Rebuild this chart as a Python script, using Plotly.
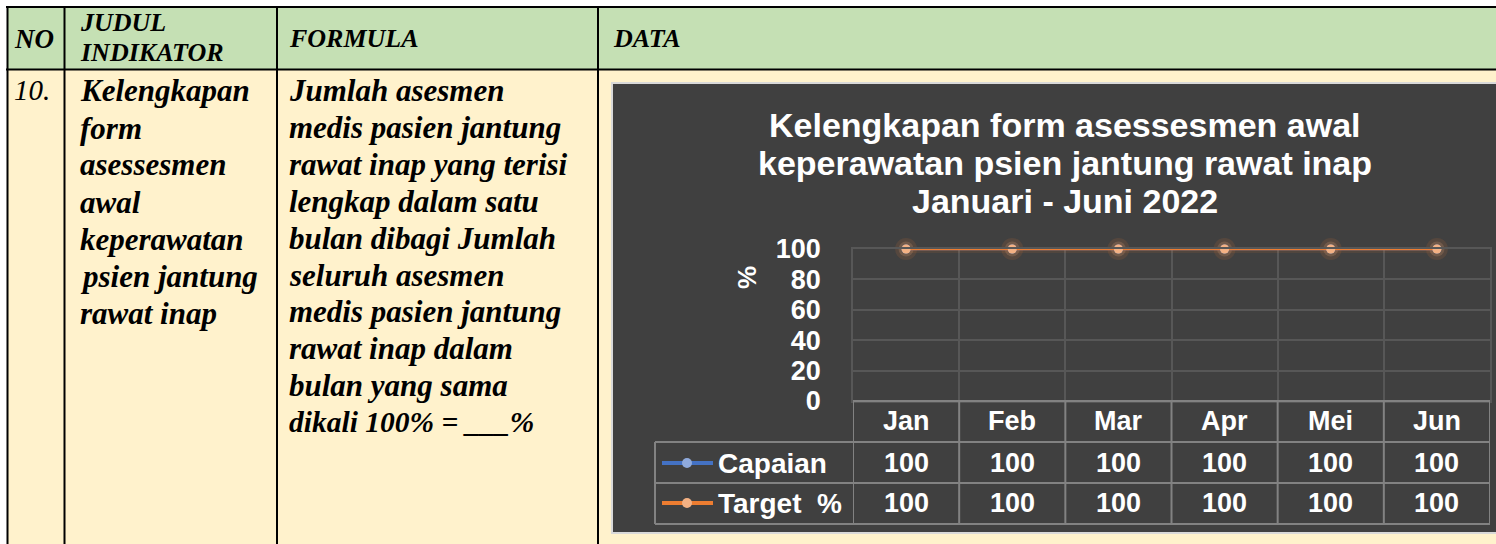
import plotly.graph_objects as go

W, H = 1496, 544

# ---------------- data ----------------
months = ["Jan", "Feb", "Mar", "Apr", "Mei", "Jun"]
capaian = [100, 100, 100, 100, 100, 100]
target = [100, 100, 100, 100, 100, 100]
series_names = ["Capaian", "Target\u00a0 %"]
y_ticks = [0, 20, 40, 60, 80, 100]

header_no = "NO"
header_judul = ["JUDUL", "INDIKATOR"]
header_formula = "FORMULA"
header_data = "DATA"
row_no = "10."
judul_lines = ["Kelengkapan", "form", "asessesmen", "awal", "keperawatan",
               "psien jantung", "rawat inap"]
formula_lines = ["Jumlah asesmen", "medis pasien jantung", "rawat inap yang terisi",
                 "lengkap dalam satu", "bulan dibagi Jumlah", "seluruh asesmen",
                 "medis pasien jantung", "rawat inap dalam", "bulan yang sama",
                 "dikali 100% = ___%"]
chart_title_lines = ["Kelengkapan form asessesmen awal",
                     "keperawatan psien jantung rawat inap",
                     "Januari - Juni 2022"]
y_title = "%"

# ---------------- helpers ----------------
def X(px):
    return px / W

def Y(py):
    return 1 - py / H

SERIF = "Liberation Serif, Times New Roman, serif"
SANS = "Liberation Sans, Arial, sans-serif"
BLUE, BLUE_M = "#4472c4", "#8faadc"
ORANGE, ORANGE_M = "#ed7d31", "#f4b183"
GRID = "#575757"
TGRID = "#828282"

fig = go.Figure()

# glow under target markers
fig.add_trace(go.Scatter(x=months, y=target, mode="lines",
                         line=dict(color="rgba(237,125,49,0.10)", width=8),
                         hoverinfo="skip", cliponaxis=False))
fig.add_trace(go.Scatter(x=months, y=target, mode="markers",
                         marker=dict(size=22, color="rgba(237,125,49,0.12)"),
                         hoverinfo="skip", cliponaxis=False))
fig.add_trace(go.Scatter(x=months, y=target, mode="markers",
                         marker=dict(size=15, color="rgba(244,177,131,0.18)"),
                         hoverinfo="skip", cliponaxis=False))
fig.add_trace(go.Scatter(x=months, y=capaian, mode="lines+markers", name=series_names[0],
                         line=dict(color=BLUE, width=2.5),
                         marker=dict(size=9, color=BLUE_M), cliponaxis=False))
fig.add_trace(go.Scatter(x=months, y=target, mode="lines+markers", name=series_names[1],
                         line=dict(color=ORANGE, width=2.5),
                         marker=dict(size=9, color=ORANGE_M), cliponaxis=False))

shapes = []
def rect(x0, y0, x1, y1, fill, lc=None, lw=0):
    shapes.append(dict(type="rect", xref="paper", yref="paper", layer="below",
                       x0=X(x0), x1=X(x1), y0=Y(y1), y1=Y(y0), fillcolor=fill,
                       line=dict(color=lc or fill, width=lw)))

def hline(y, x0, x1, color, w, layer="above"):
    shapes.append(dict(type="line", xref="paper", yref="paper", layer=layer,
                       x0=X(x0), x1=X(x1), y0=Y(y), y1=Y(y), line=dict(color=color, width=w)))

def vline(x, y0, y1, color, w, layer="above"):
    shapes.append(dict(type="line", xref="paper", yref="paper", layer=layer,
                       x0=X(x), x1=X(x), y0=Y(y0), y1=Y(y1), line=dict(color=color, width=w)))

# page table backgrounds
rect(7, 7, 1500, 69, "#c5e0b4")
rect(7, 69, 1500, 548, "#fff2cc")
# chart panel
rect(612, 83, 1500, 533, "#404040", "#d9d9d9", 2)

# page table borders
hline(7, 6, 1500, "black", 2, "below")
hline(69.5, 6, 1500, "black", 2, "below")
vline(7.5, 6, 548, "black", 2, "below")
vline(64.5, 6, 548, "black", 2, "below")
vline(277, 6, 548, "black", 2, "below")
vline(598, 6, 548, "black", 2, "below")

# chart data table grid
hline(401, 853, 1490, TGRID, 2)
for yy in (442, 483, 524):
    hline(yy, 655, 1490, TGRID, 2)
vline(655, 442, 524, TGRID, 2)
for i in range(len(months) + 1):
    shapes.append(dict(type="line", xref="x", yref="paper", x0=i - 0.5, x1=i - 0.5,
                       y0=Y(401), y1=Y(524), line=dict(color=TGRID, width=2)))

# legend keys in the data table
for yy, lc, mc in ((463, BLUE, BLUE_M), (503, ORANGE, ORANGE_M)):
    hline(yy, 662, 713, lc, 4)
    shapes.append(dict(type="circle", xref="paper", yref="paper",
                       x0=X(682), x1=X(692), y0=Y(yy + 5), y1=Y(yy - 5),
                       fillcolor=mc, line=dict(width=0)))

annotations = []
def txt(x, y, s, size, family=SANS, color="black", xanchor="left", bold=True,
        italic=False, xref="paper", angle=0):
    annotations.append(dict(x=x if xref != "paper" else X(x), y=Y(y), xref=xref, yref="paper",
                            text=s, showarrow=False, xanchor=xanchor, yanchor="middle",
                            textangle=angle,
                            font=dict(family=family, size=size, color=color,
                                      weight="bold" if bold else "normal",
                                      style="italic" if italic else "normal")))

# header
txt(12, 39, header_no, 27, SERIF, italic=True)
txt(78, 23, header_judul[0], 26, SERIF, italic=True)
txt(78, 53, header_judul[1], 26, SERIF, italic=True)
txt(287, 39, header_formula, 26, SERIF, italic=True)
txt(611, 39, header_data, 26, SERIF, italic=True)

# body
txt(12, 90, row_no, 29, SERIF, bold=False, italic=True)
for i, s in enumerate(judul_lines):
    txt(78, 91 + i * 37, s, 31, SERIF, italic=True)
for i, s in enumerate(formula_lines):
    txt(287, 91 + i * 36.8, s, 31 if i < len(formula_lines) - 1 else 29.5, SERIF, italic=True)

# chart title
for i, s in enumerate(chart_title_lines):
    txt(1065, 125 + i * 38, s, 34, SANS, color="white", xanchor="center")

# y-axis title
txt(747, 278, y_title, 26, SANS, color="white", xanchor="center", angle=-90)

# data table text
for m in months:
    txt(m, 421, m, 27, SANS, color="white", xanchor="center", xref="x")
for m, v in zip(months, capaian):
    txt(m, 463, str(v), 27, SANS, color="white", xanchor="center", xref="x")
for m, v in zip(months, target):
    txt(m, 503, str(v), 27, SANS, color="white", xanchor="center", xref="x")
txt(716, 463, series_names[0], 28, SANS, color="white")
txt(716, 503, series_names[1], 28, SANS, color="white")

fig.update_layout(
    width=W, height=H, margin=dict(l=0, r=0, t=0, b=0, pad=0, autoexpand=False),
    paper_bgcolor="white", plot_bgcolor="rgba(0,0,0,0)",
    showlegend=False, shapes=shapes, annotations=annotations,
    xaxis=dict(domain=[X(853), X(1490)], type="category", categoryorder="array",
               categoryarray=months, range=[-0.5, len(months) - 0.5],
               tickson="boundaries", showticklabels=False, ticks="",
               showgrid=True, gridcolor=GRID, gridwidth=1.5, automargin=False,
               showline=True, linecolor=GRID, linewidth=1.5, mirror=True,
               zeroline=False, fixedrange=True),
    yaxis=dict(domain=[Y(401), Y(249)], range=[0, 100], tickvals=y_ticks,
               tickfont=dict(family=SANS, size=27, color="white", weight="bold"),
               ticklabelstandoff=25, ticks="", automargin=False,
               showgrid=True, gridcolor=GRID, gridwidth=1.5,
               showline=True, linecolor=GRID, linewidth=1.5, mirror=True,
               zeroline=False, fixedrange=True),
)

fig.write_html("out.html", config={"displayModeBar": False},
               post_script="document.body.style.margin='0';")
